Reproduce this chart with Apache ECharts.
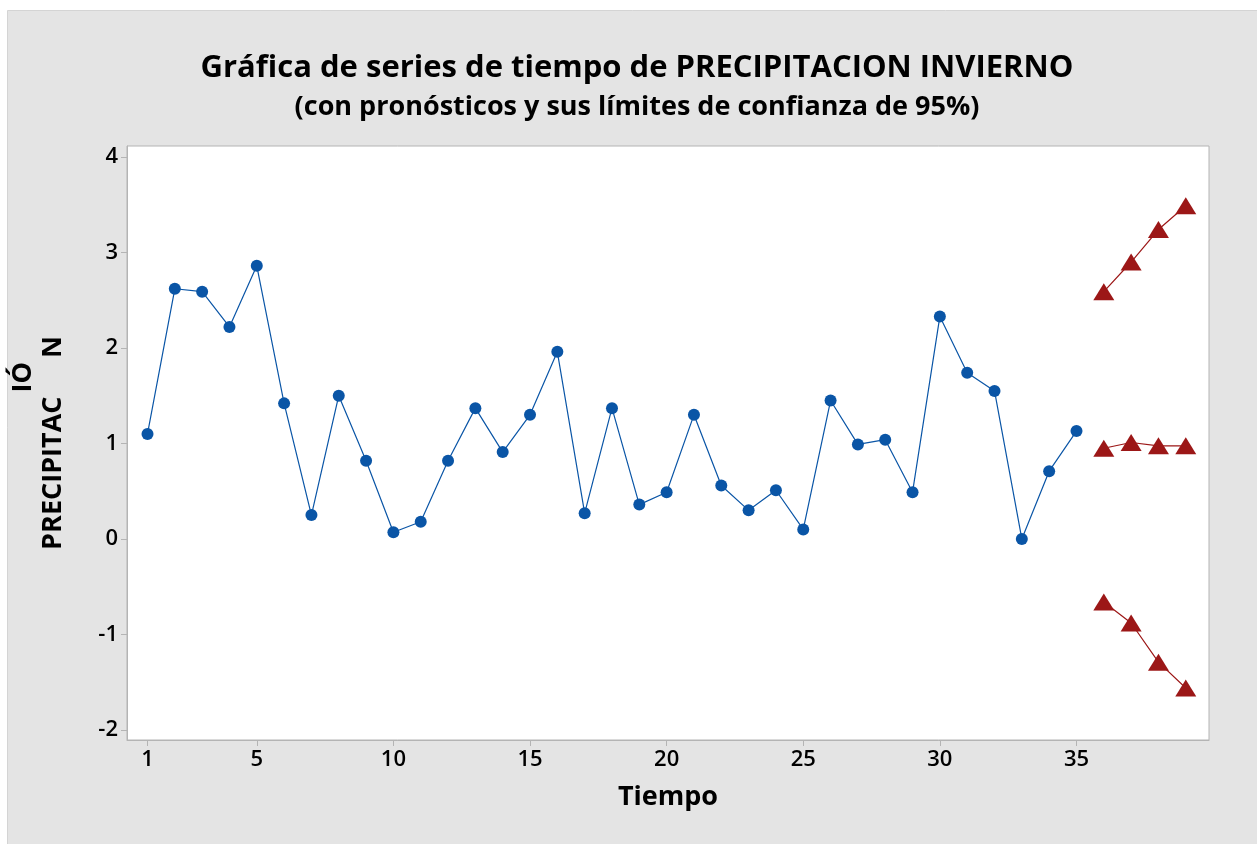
<!DOCTYPE html>
<html>
<head>
<meta charset="utf-8">
<script src="https://cdn.jsdelivr.net/npm/echarts@6/dist/echarts.min.js"></script>
<style>html,body{margin:0;padding:0;background:#fff}#c{width:1257px;height:844px}</style>
</head>
<body>
<div id="c"></div>
<script>
// ---- data ----
const observedValues = [1.10, 2.62, 2.59, 2.22, 2.86, 1.42, 0.25, 1.50, 0.82, 0.07,
  0.18, 0.82, 1.37, 0.91, 1.30, 1.96, 0.27, 1.37, 0.36, 0.49,
  1.30, 0.56, 0.30, 0.51, 0.10, 1.45, 0.99, 1.04, 0.49, 2.33,
  1.74, 1.55, 0.00, 0.71, 1.13];
const forecastTimes = [36, 37, 38, 39];
const forecastValues = [0.95, 1.01, 0.975, 0.975];
const lowerValues = [-0.66, -0.88, -1.29, -1.56];
const upperValues = [2.59, 2.90, 3.24, 3.49];
const xTickLabels = [1, 5, 10, 15, 20, 25, 30, 35];
const yTickLabels = [-2, -1, 0, 1, 2, 3, 4];
const titleText = 'Gráfica de series de tiempo de PRECIPITACION INVIERNO';
const subtitleText = '(con pronósticos y sus límites de confianza de 95%)';
const xName = 'Tiempo';
const yNameParts = ['PRECIPITAC', 'IÓ', 'N'];

const FONT = '"Open Sans", "Noto Sans", sans-serif';
const BLUE = '#0a55a6';
const RED = '#9c1717';

const observed = observedValues.map((v, i) => [i + 1, v]);
const pair = arr => arr.map((v, i) => [forecastTimes[i], v]);

// measure y name pieces
const cvs = document.createElement('canvas').getContext('2d');
const yFontSize = 27;
cvs.font = 'bold ' + yFontSize + 'px ' + FONT;
const w1 = cvs.measureText(yNameParts[0]).width;
const w2 = cvs.measureText(yNameParts[1]).width;
const w3 = cvs.measureText(yNameParts[2]).width;
const gap = w2 + 8;
const W = w1 + gap + w3;
const yStyle = {fontSize: yFontSize, fontWeight: 'bold', fontFamily: FONT, fill: '#000', verticalAlign: 'middle', align: 'left'};

const chart = echarts.init(document.getElementById('c'), null, {renderer: 'canvas'});
chart.setOption({
  backgroundColor: '#ffffff',
  animation: false,
  title: [
    {text: titleText, left: 632, top: 48, textAlign: 'center',
     textStyle: {fontSize: 31, fontWeight: 'bold', fontFamily: FONT, color: '#000'}},
    {text: subtitleText, left: 632, top: 89, textAlign: 'center',
     textStyle: {fontSize: 27, fontWeight: 'bold', fontFamily: FONT, color: '#000'}}
  ],
  graphic: [
    {type: 'rect', z: -10, silent: true, shape: {x: 7.5, y: 10.5, width: 1260, height: 840},
     style: {fill: '#e4e4e4', stroke: '#d4d4d4', lineWidth: 1}},
    {type: 'group', x: 53, y: 443, rotation: Math.PI / 2, children: [
      {type: 'text', x: -W / 2, y: 0, style: Object.assign({text: yNameParts[0]}, yStyle)},
      {type: 'text', x: -W / 2 + w1 + 4, y: -30, style: Object.assign({text: yNameParts[1]}, yStyle)},
      {type: 'text', x: -W / 2 + w1 + gap, y: 0, style: Object.assign({text: yNameParts[2]}, yStyle)}
    ]}
  ],
  grid: {left: 127, top: 146, right: 48, bottom: 104, show: true, backgroundColor: '#ffffff',
         borderColor: '#b4b4b4', borderWidth: 1, containLabel: false},
  xAxis: {
    type: 'value', min: 0.25, max: 39.85,
    name: xName, nameLocation: 'middle', nameGap: 44,
    nameTextStyle: {fontSize: 27, fontWeight: 'bold', fontFamily: FONT, color: '#000'},
    axisLine: {show: true, onZero: false, lineStyle: {color: '#b4b4b4', width: 1}},
    axisTick: {show: true, length: 6, lineStyle: {color: '#b4b4b4'}, customValues: xTickLabels},
    axisLabel: {fontSize: 22, fontWeight: 600, fontFamily: FONT, color: '#000', margin: 9, customValues: xTickLabels},
    splitLine: {show: false}
  },
  yAxis: {
    type: 'value', min: -2.105, max: 4.115,
    axisLine: {show: true, onZero: false, lineStyle: {color: '#b4b4b4', width: 1}},
    axisTick: {show: true, length: 6, lineStyle: {color: '#b4b4b4'}, customValues: yTickLabels},
    axisLabel: {fontSize: 22, fontWeight: 600, fontFamily: FONT, color: '#000', margin: 9, customValues: yTickLabels},
    splitLine: {show: false}
  },
  series: [
    {name: 'Real', type: 'line', data: observed, symbol: 'circle', symbolSize: 12,
     itemStyle: {color: BLUE}, lineStyle: {color: BLUE, width: 1.2}},
    {name: 'Pronóstico', type: 'line', data: pair(forecastValues), symbol: 'triangle', symbolSize: [21, 17],
     itemStyle: {color: RED}, lineStyle: {color: RED, width: 1.2}},
    {name: 'Inferior', type: 'line', data: pair(lowerValues), symbol: 'triangle', symbolSize: [21, 17],
     itemStyle: {color: RED}, lineStyle: {color: RED, width: 1.2}},
    {name: 'Superior', type: 'line', data: pair(upperValues), symbol: 'triangle', symbolSize: [21, 17],
     itemStyle: {color: RED}, lineStyle: {color: RED, width: 1.2}}
  ]
});
</script>
</body>
</html>
